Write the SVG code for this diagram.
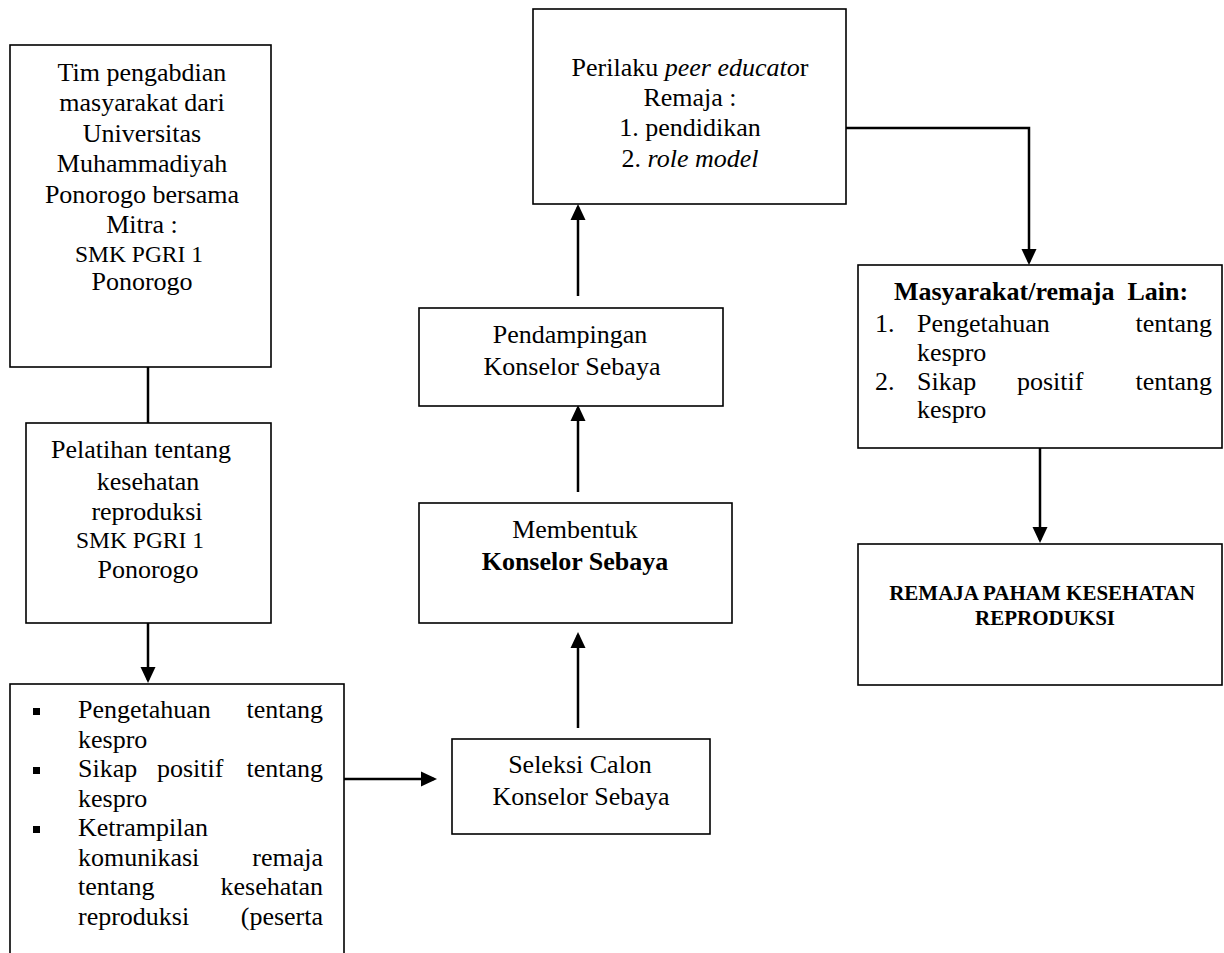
<svg xmlns="http://www.w3.org/2000/svg" width="1224" height="953" viewBox="0 0 1224 953">
<style>
.box{fill:#fff;stroke:#000;stroke-width:1.6}
.t{font-family:"Liberation Serif","Times New Roman",serif;font-size:26px;fill:#000}
.c{text-anchor:middle}
.e{text-anchor:end}
.b{font-weight:bold}
.s{font-size:23.5px}
.i{font-style:italic}
.con{fill:none;stroke:#000;stroke-width:2.5}
</style>
<defs>
<marker id="arr" markerUnits="userSpaceOnUse" markerWidth="16" markerHeight="16" refX="13" refY="8" orient="auto" viewBox="0 0 16 16">
<path d="M0,0.5 L16,8 L0,15.5 z" fill="#000"/>
</marker>
</defs>
<rect width="1224" height="953" fill="#fff"/>

<g id="connectors">
<path class="con" d="M148,367 V423"/>
<path class="con" d="M148,623 V680" marker-end="url(#arr)"/>
<path class="con" d="M344,779 H434" marker-end="url(#arr)"/>
<path class="con" d="M578,728 V635" marker-end="url(#arr)"/>
<path class="con" d="M578,492 V408" marker-end="url(#arr)"/>
<path class="con" d="M578,296 V207" marker-end="url(#arr)"/>
<path class="con" d="M846,128 H1029 V262" marker-end="url(#arr)"/>
<path class="con" d="M1040,448 V540" marker-end="url(#arr)"/>
</g>

<g id="tim">
<rect class="box" x="10" y="45" width="261" height="322"/>
<text class="t c" x="142" y="81">Tim pengabdian</text>
<text class="t c" x="142" y="111">masyarakat dari</text>
<text class="t c" x="142" y="142">Universitas</text>
<text class="t c" x="142" y="172">Muhammadiyah</text>
<text class="t c" x="142" y="203">Ponorogo bersama</text>
<text class="t c" x="142" y="233">Mitra :</text>
<text class="t c s" x="139" y="262">SMK PGRI 1</text>
<text class="t c" x="142" y="290">Ponorogo</text>
</g>

<g id="pelatihan">
<rect class="box" x="26" y="423" width="245" height="200"/>
<text class="t c" x="141" y="458">Pelatihan tentang</text>
<text class="t c" x="148" y="490">kesehatan</text>
<text class="t c" x="147" y="520">reproduksi</text>
<text class="t c s" x="140" y="548">SMK PGRI 1</text>
<text class="t c" x="148" y="578">Ponorogo</text>
</g>

<g id="hasil">
<rect class="box" x="10" y="684" width="334" height="320"/>
<rect x="33" y="708" width="7" height="7" fill="#000"/>
<rect x="33" y="767" width="7" height="7" fill="#000"/>
<rect x="33" y="826" width="7" height="7" fill="#000"/>
<text class="t" x="78" y="718">Pengetahuan</text>
<text class="t e" x="323" y="718">tentang</text>
<text class="t" x="78" y="747.5">kespro</text>
<text class="t" x="78" y="777">Sikap</text>
<text class="t" x="157" y="777">positif</text>
<text class="t e" x="323" y="777">tentang</text>
<text class="t" x="78" y="806.5">kespro</text>
<text class="t" x="78" y="836">Ketrampilan</text>
<text class="t" x="78" y="865.5">komunikasi</text>
<text class="t e" x="323" y="865.5">remaja</text>
<text class="t" x="78" y="895">tentang</text>
<text class="t e" x="323" y="895">kesehatan</text>
<text class="t" x="78" y="924.5">reproduksi</text>
<text class="t e" x="323" y="924.5">(peserta</text>
</g>

<g id="seleksi">
<rect class="box" x="452" y="739" width="258" height="95"/>
<text class="t c" x="580" y="773">Seleksi Calon</text>
<text class="t c" x="581" y="805">Konselor Sebaya</text>
</g>

<g id="membentuk">
<rect class="box" x="419" y="503" width="313" height="120"/>
<text class="t c" x="575" y="538">Membentuk</text>
<text class="t c b" x="575" y="570">Konselor Sebaya</text>
</g>

<g id="pendampingan">
<rect class="box" x="419" y="308" width="304" height="98"/>
<text class="t c" x="570" y="343">Pendampingan</text>
<text class="t c" x="572" y="375">Konselor Sebaya</text>
</g>

<g id="perilaku">
<rect class="box" x="533" y="9" width="313" height="195"/>
<text class="t c" x="690" y="76">Perilaku <tspan class="i">peer educato</tspan>r</text>
<text class="t c" x="690" y="106">Remaja :</text>
<text class="t c" x="690" y="136">1. pendidikan</text>
<text class="t c" x="690" y="167">2. <tspan class="i">role model</tspan></text>
</g>

<g id="masyarakat">
<rect class="box" x="858" y="265" width="364" height="183"/>
<text class="t c b" x="1041" y="300" xml:space="preserve">Masyarakat/remaja  Lain:</text>
<text class="t" x="875" y="332">1.</text>
<text class="t" x="917" y="332">Pengetahuan</text>
<text class="t e" x="1212" y="332">tentang</text>
<text class="t" x="917" y="361">kespro</text>
<text class="t" x="875" y="390">2.</text>
<text class="t" x="917" y="390">Sikap</text>
<text class="t" x="1017" y="390">positif</text>
<text class="t e" x="1212" y="390">tentang</text>
<text class="t" x="917" y="418">kespro</text>
</g>

<g id="remaja">
<rect class="box" x="858" y="544" width="364" height="141"/>
<text class="t c b" x="1042" y="600" style="font-size:21px">REMAJA PAHAM KESEHATAN</text>
<text class="t c b" x="1045" y="625" style="font-size:21px">REPRODUKSI</text>
</g>
</svg>
